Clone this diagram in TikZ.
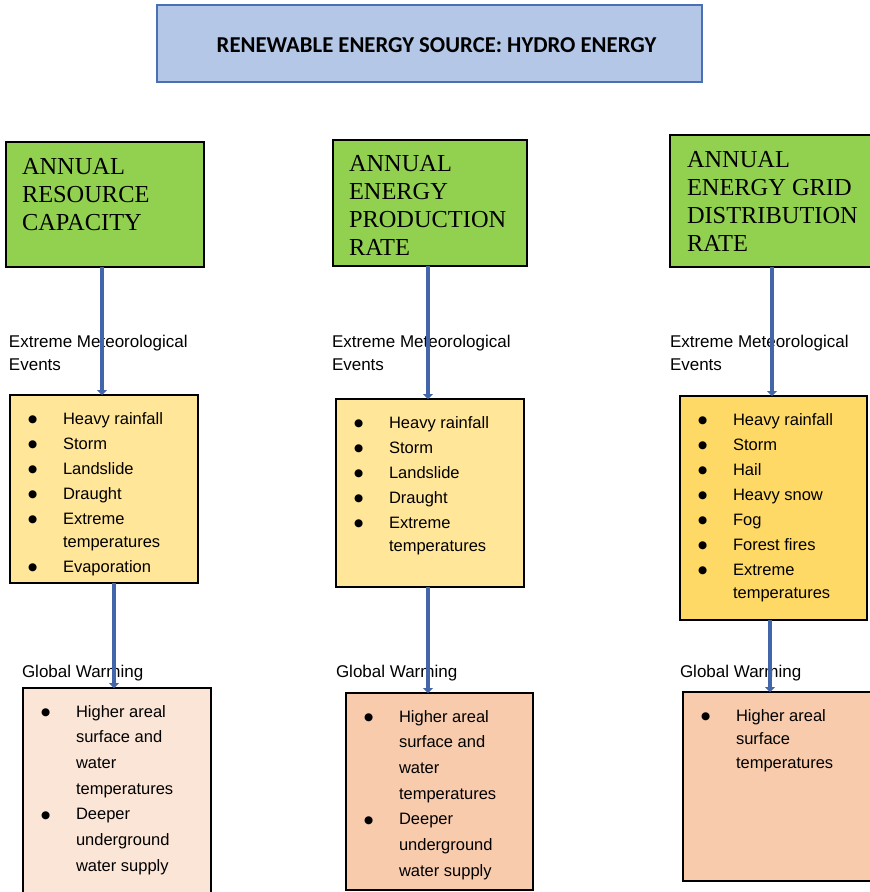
\documentclass[tikz,border=0pt]{standalone}
\usepackage{fontspec}
\setmainfont{Liberation Sans}
\newfontfamily\headfont{Liberation Serif}
\newfontfamily\titlefont{Carlito}
\newfontfamily\dotfont{DejaVu Sans}
\usetikzlibrary{arrows.meta}

\definecolor{titlefill}{HTML}{B4C7E7}
\definecolor{titleline}{HTML}{4A6FB5}
\definecolor{greenfill}{HTML}{92D050}
\definecolor{paleyellow}{HTML}{FFE699}
\definecolor{goldyellow}{HTML}{FFD966}
\definecolor{palepeach}{HTML}{FBE5D6}
\definecolor{peach}{HTML}{F8CBAD}
\definecolor{arrowblue}{HTML}{4365AA}

% one bullet entry: dot column, then the text
\newcommand{\itm}[1]{\makebox[34pt][l]{\hspace*{-1pt}\raisebox{1.5pt}{\dotfont\fontsize{10.5}{10}\selectfont ●}} & #1}

\begin{document}
\begin{tikzpicture}[x=1pt,y=-1pt,
  box/.style={rectangle,draw=black,line width=1.4pt,inner sep=0pt,outer sep=0pt,anchor=north west},
  headbox/.style={box,fill=greenfill},
  txt/.style={inner sep=0pt,outer sep=0pt,anchor=base west},
  headtxt/.style={txt,font=\headfont\fontsize{24.4}{28}\selectfont},
  labeltxt/.style={txt,font=\fontsize{17}{23}\selectfont},
  listtxt/.style={txt,font=\fontsize{16.5}{25}\selectfont},
  conn/.style={draw=arrowblue,line width=4.5pt,-{Triangle[length=5pt,width=10pt]}}
]
\useasboundingbox (0,0) rectangle (870,892);
\clip (0,0) rectangle (870,892);

% title
\node[box,draw=titleline,fill=titlefill,minimum width=545pt,minimum height=77pt] (title) at (157,5) {};
\node[inner sep=0pt,font=\titlefont\bfseries\fontsize{22.7}{23}\selectfont] (titletext) at (436.5,45)
  {RENEWABLE ENERGY SOURCE: HYDRO ENERGY};

% headline boxes
\node[headbox,minimum width=198pt,minimum height=125pt] (g1) at (6,142) {};
\node[headbox,minimum width=194pt,minimum height=126pt] (g2) at (333,140) {};
\node[headbox,minimum width=205pt,minimum height=132pt] (g3) at (670,135) {};
\node[headtxt] (g1t) at (22,174) {\begin{tabular}[t]{@{}l@{}}ANNUAL\\RESOURCE\\CAPACITY\end{tabular}};
\node[headtxt] (g2t) at (349,171) {\begin{tabular}[t]{@{}l@{}}ANNUAL\\ENERGY\\PRODUCTION\\RATE\end{tabular}};
\node[headtxt] (g3t) at (687,167) {\begin{tabular}[t]{@{}l@{}}ANNUAL\\ENERGY GRID\\DISTRIBUTION\\RATE\end{tabular}};

% meteorological event boxes
\node[box,fill=paleyellow,minimum width=188pt,minimum height=188pt] (y1) at (10,395) {};
\node[box,fill=paleyellow,minimum width=188pt,minimum height=188pt] (y2) at (336,399) {};
\node[box,fill=goldyellow,minimum width=187pt,minimum height=224pt] (y3) at (680,396) {};

\node[listtxt] (y1t) at (29,424) {\begin{tabular}[t]{@{}l@{}l@{}}
  \itm{Heavy rainfall}\\ \itm{Storm}\\ \itm{Landslide}\\ \itm{Draught}\\
  \itm{Extreme}\\[-2pt] & temperatures\\ \itm{Evaporation}\end{tabular}};
\node[listtxt] (y2t) at (355,428) {\begin{tabular}[t]{@{}l@{}l@{}}
  \itm{Heavy rainfall}\\ \itm{Storm}\\ \itm{Landslide}\\ \itm{Draught}\\
  \itm{Extreme}\\[-2pt] & temperatures\end{tabular}};
\node[listtxt] (y3t) at (699,425) {\begin{tabular}[t]{@{}l@{}l@{}}
  \itm{Heavy rainfall}\\ \itm{Storm}\\ \itm{Hail}\\ \itm{Heavy snow}\\ \itm{Fog}\\
  \itm{Forest fires}\\ \itm{Extreme}\\[-2pt] & temperatures\end{tabular}};

% global warming boxes
\node[box,fill=palepeach,minimum width=188pt,minimum height=215pt] (b1) at (23,688) {};
\node[box,fill=peach,minimum width=187pt,minimum height=197pt] (b2) at (346,693) {};
\node[box,fill=peach,minimum width=190pt,minimum height=189pt] (b3) at (683,692) {};

\node[listtxt,font=\fontsize{16.5}{25.7}\selectfont] (b1t) at (42,717) {\begin{tabular}[t]{@{}l@{}l@{}}
  \itm{Higher areal}\\ & surface and\\ & water\\ & temperatures\\
  \itm{Deeper}\\ & underground\\ & water supply\end{tabular}};
\node[listtxt,font=\fontsize{16.5}{25.7}\selectfont] (b2t) at (365,722) {\begin{tabular}[t]{@{}l@{}l@{}}
  \itm{Higher areal}\\ & surface and\\ & water\\ & temperatures\\
  \itm{Deeper}\\ & underground\\ & water supply\end{tabular}};
\node[listtxt,font=\fontsize{16.5}{23.5}\selectfont] (b3t) at (702,721) {\begin{tabular}[t]{@{}l@{}l@{}}
  \itm{Higher areal}\\ & surface\\ & temperatures\end{tabular}};

% connector labels
\node[labeltxt] (l1) at (9,347) {\begin{tabular}[t]{@{}l@{}}Extreme Meteorological\\Events\end{tabular}};
\node[labeltxt] (l2) at (332,347) {\begin{tabular}[t]{@{}l@{}}Extreme Meteorological\\Events\end{tabular}};
\node[labeltxt] (l3) at (670,347) {\begin{tabular}[t]{@{}l@{}}Extreme Meteorological\\Events\end{tabular}};
\node[labeltxt] (w1) at (22,677) {Global Warming};
\node[labeltxt] (w2) at (336,677) {Global Warming};
\node[labeltxt] (w3) at (680,677) {Global Warming};

% connectors
\draw[conn] ([xshift=-3pt]g1.south) -- ([xshift=-3pt]g1.south |- y1.north);
\draw[conn] ([xshift=-2pt]g2.south) -- ([xshift=-2pt]g2.south |- y2.north);
\draw[conn] ([xshift=-0.5pt]g3.south) -- ([xshift=-0.5pt]g3.south |- y3.north);
\draw[conn] ([xshift=10pt]y1.south) -- ([xshift=10pt]y1.south |- b1.north);
\draw[conn] ([xshift=-2pt]y2.south) -- ([xshift=-2pt]y2.south |- b2.north);
\draw[conn] ([xshift=-3.5pt]y3.south) -- ([xshift=-3.5pt]y3.south |- b3.north);
\end{tikzpicture}
\end{document}
